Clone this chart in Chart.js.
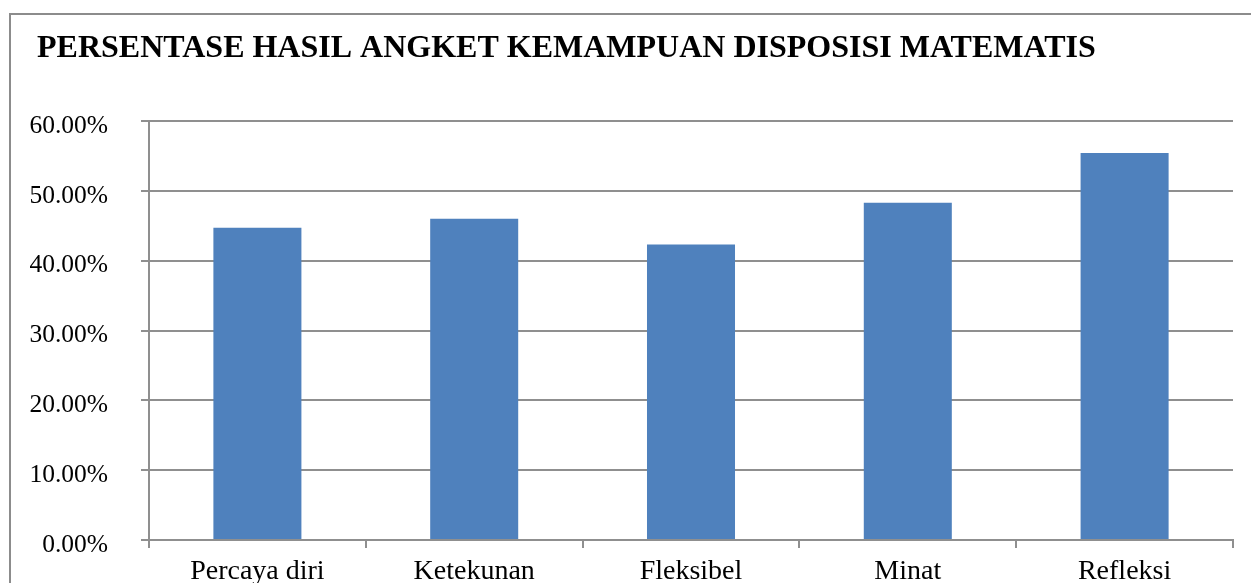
<!DOCTYPE html>
<html>
<head>
<meta charset="utf-8">
<script src="https://cdn.jsdelivr.net/npm/chart.js@4/dist/chart.umd.min.js"></script>
<style>
  html, body { margin: 0; padding: 0; background: #fff; }
  #wrap { width: 1251px; height: 583px; }
</style>
</head>
<body>
<div id="wrap"><canvas id="dispChart" width="1251" height="583"></canvas></div>
<script>
// data
var categories = ['Percaya diri', 'Ketekunan', 'Fleksibel', 'Minat', 'Refleksi'];
var percentValues = [44.7, 46.0, 42.3, 48.3, 55.4];
var yTicks = [0, 10, 20, 30, 40, 50, 60];

var serif = "'Liberation Serif', 'Times New Roman', serif";
var gridGray = '#8f8f8f';

// outer frame of the chart object + nudge the title right
var framePlugin = {
    id: 'frame',
    afterLayout: function (chart) {
        if (chart.titleBlock) {
            chart.titleBlock.left = 37;
        }
    },
    beforeDraw: function (chart) {
        var ctx = chart.ctx;
        ctx.save();
        ctx.fillStyle = '#fff';
        ctx.fillRect(0, 0, chart.width, chart.height);
        ctx.strokeStyle = '#8c8c8c';
        ctx.lineWidth = 2;
        ctx.strokeRect(10, 14, chart.width + 20, chart.height + 20);
        ctx.restore();
    }
};

var ctx = document.getElementById('dispChart').getContext('2d');
var dispChart = new Chart(ctx, {
    type: 'bar',
    data: {
        labels: categories,
        datasets: [{
            label: 'Persentase',
            data: percentValues,
            backgroundColor: '#4f81bd',
            borderWidth: 0,
            barPercentage: 0.406,
            categoryPercentage: 1.0
        }]
    },
    options: {
        responsive: false,
        animation: false,
        layout: {
            padding: { left: 12, right: 18, top: 0, bottom: 0 }
        },
        plugins: {
            legend: { display: false },
            tooltip: { enabled: false },
            title: {
                display: true,
                text: 'PERSENTASE HASIL ANGKET KEMAMPUAN DISPOSISI MATEMATIS',
                align: 'start',
                color: '#000',
                font: { family: serif, size: 32, weight: 'bold', lineHeight: 1.2 },
                padding: { top: 30, bottom: 52.6 }
            }
        },
        scales: {
            x: {
                grid: {
                    display: true,
                    drawOnChartArea: false,
                    drawTicks: true,
                    tickLength: 8,
                    color: gridGray,
                    lineWidth: 2
                },
                border: { display: true, color: gridGray, width: 2 },
                ticks: {
                    color: '#000',
                    font: { family: serif, size: 28 },
                    padding: 7,
                    maxRotation: 0
                },
                afterFit: function (scale) { scale.height = 43; }
            },
            y: {
                min: 0,
                max: 60,
                afterBuildTicks: function (scale) {
                    scale.ticks = yTicks.map(function (v) { return { value: v }; });
                },
                grid: {
                    color: gridGray,
                    lineWidth: 2,
                    tickLength: 8
                },
                border: { display: true, color: gridGray, width: 2 },
                ticks: {
                    color: '#000',
                    font: { family: serif, size: 25.5 },
                    padding: 33,
                    labelOffset: 5,
                    callback: function (v) { return v.toFixed(2) + '%'; }
                },
                afterFit: function (scale) {
                    scale.width = 137;
                    scale.paddingTop = 0;
                    scale.paddingBottom = 0;
                }
            }
        }
    },
    plugins: [framePlugin]
});
</script>
</body>
</html>
